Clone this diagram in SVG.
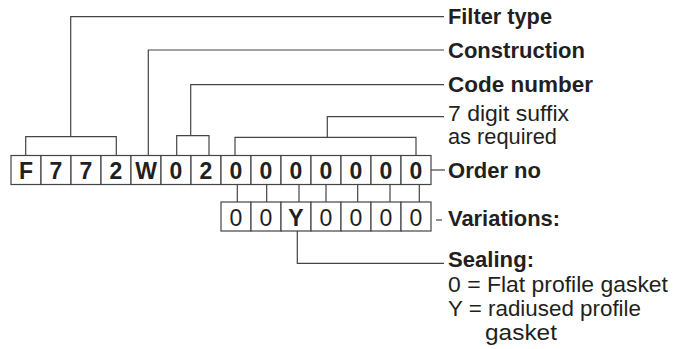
<svg xmlns="http://www.w3.org/2000/svg" width="688" height="349" viewBox="0 0 688 349">
<style>
.box{fill:#fff;stroke:#444;stroke-width:1.2}
.ln{fill:none;stroke:#444;stroke-width:1.2}
.bt{font-family:"Liberation Sans",Arial,sans-serif;font-size:23px;font-weight:bold;fill:#231f20;text-anchor:middle}
.rt{font-family:"Liberation Sans",Arial,sans-serif;font-size:23px;fill:#231f20;text-anchor:middle}
.lb{font-family:"Liberation Sans",Arial,sans-serif;font-size:22px;font-weight:bold;fill:#231f20}
.lr{font-family:"Liberation Sans",Arial,sans-serif;font-size:22px;fill:#231f20}
</style>
<rect width="688" height="349" fill="#fff"/>
<g id="connectors">
<path class="ln" d="M25.7,155 V136.7 H116.3 V155 M70.7,136.7 V16.7 H444"/>
<path class="ln" d="M148.3,155 V50 H444"/>
<path class="ln" d="M176.7,155 V135.7 H209 V155 M190.7,135.7 V84.7 H444"/>
<path class="ln" d="M235,155 V137.3 H416 V155 M327.3,137.3 V116.7 H444"/>
<path class="ln" d="M431,170 H445"/>
<path class="ln" d="M436,220 H442"/>
<path class="ln" d="M237.3,184.5 V202 M266.7,184.5 V202 M299,184.5 V202 M326,184.5 V202 M357.7,184.5 V202 M390,184.5 V202 M419.3,184.5 V202"/>
<path class="ln" d="M297.3,231 V263.3 H444"/>
</g>
<g id="order-no">
<rect class="box" x="11" y="155.5" width="30" height="29"/>
<rect class="box" x="41" y="155.5" width="30" height="29"/>
<rect class="box" x="71" y="155.5" width="30" height="29"/>
<rect class="box" x="101" y="155.5" width="30" height="29"/>
<rect class="box" x="131" y="155.5" width="30" height="29"/>
<rect class="box" x="161" y="155.5" width="30" height="29"/>
<rect class="box" x="191" y="155.5" width="30" height="29"/>
<rect class="box" x="221" y="155.5" width="30" height="29"/>
<rect class="box" x="251" y="155.5" width="30" height="29"/>
<rect class="box" x="281" y="155.5" width="30" height="29"/>
<rect class="box" x="311" y="155.5" width="30" height="29"/>
<rect class="box" x="341" y="155.5" width="30" height="29"/>
<rect class="box" x="371" y="155.5" width="30" height="29"/>
<rect class="box" x="401" y="155.5" width="30" height="29"/>
<text class="bt" x="26" y="179">F</text>
<text class="bt" x="56" y="179">7</text>
<text class="bt" x="86" y="179">7</text>
<text class="bt" x="116" y="179">2</text>
<text class="bt" x="146" y="179">W</text>
<text class="bt" x="176" y="179">0</text>
<text class="bt" x="206" y="179">2</text>
<text class="bt" x="236" y="179">0</text>
<text class="bt" x="266" y="179">0</text>
<text class="bt" x="296" y="179">0</text>
<text class="bt" x="326" y="179">0</text>
<text class="bt" x="356" y="179">0</text>
<text class="bt" x="386" y="179">0</text>
<text class="bt" x="416" y="179">0</text>
</g>
<g id="variations">
<rect class="box" x="221" y="202" width="30" height="29"/>
<rect class="box" x="251" y="202" width="30" height="29"/>
<rect class="box" x="281" y="202" width="30" height="29"/>
<rect class="box" x="311" y="202" width="30" height="29"/>
<rect class="box" x="341" y="202" width="30" height="29"/>
<rect class="box" x="371" y="202" width="30" height="29"/>
<rect class="box" x="401" y="202" width="30" height="29"/>
<text class="rt" x="236" y="226">0</text>
<text class="rt" x="266" y="226">0</text>
<text class="bt" x="296" y="226">Y</text>
<text class="rt" x="326" y="226">0</text>
<text class="rt" x="356" y="226">0</text>
<text class="rt" x="386" y="226">0</text>
<text class="rt" x="416" y="226">0</text>
</g>
<g id="label-filter-type"><text class="lb" x="448" y="24" textLength="104" lengthAdjust="spacingAndGlyphs">Filter type</text></g>
<g id="label-construction"><text class="lb" x="448" y="58" textLength="137" lengthAdjust="spacingAndGlyphs">Construction</text></g>
<g id="label-code-number"><text class="lb" x="448" y="92" textLength="145" lengthAdjust="spacingAndGlyphs">Code number</text></g>
<g id="label-suffix"><text class="lr" x="448" y="121" textLength="121" lengthAdjust="spacingAndGlyphs">7 digit suffix</text><text class="lr" x="448" y="144" textLength="109" lengthAdjust="spacingAndGlyphs">as required</text></g>
<g id="label-order-no"><text class="lb" x="448" y="178" textLength="93" lengthAdjust="spacingAndGlyphs">Order no</text></g>
<g id="label-variations"><text class="lb" x="448" y="226" textLength="112" lengthAdjust="spacingAndGlyphs">Variations:</text></g>
<g id="label-sealing">
<text class="lb" x="448" y="267" textLength="86" lengthAdjust="spacingAndGlyphs">Sealing:</text>
<text class="lr" x="448" y="292" textLength="220" lengthAdjust="spacingAndGlyphs">0 = Flat profile gasket</text>
<text class="lr" x="448" y="316" textLength="193" lengthAdjust="spacingAndGlyphs">Y = radiused profile</text>
<text class="lr" x="485" y="340" textLength="72" lengthAdjust="spacingAndGlyphs">gasket</text>
</g>
</svg>
